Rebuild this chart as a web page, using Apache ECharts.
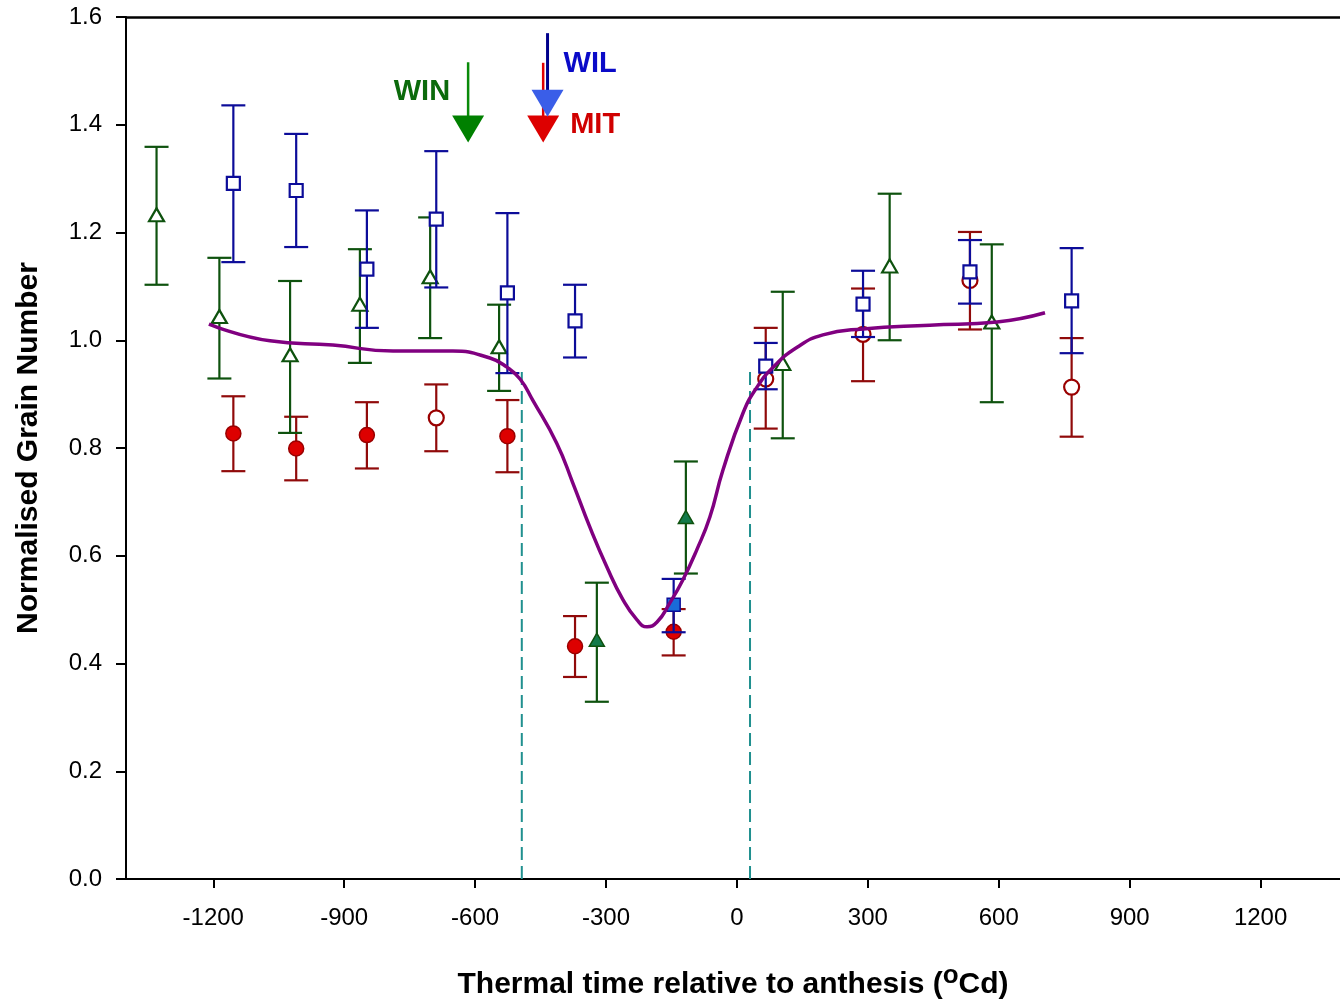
<!DOCTYPE html>
<html><head><meta charset="utf-8">
<script src="https://cdn.jsdelivr.net/npm/echarts@6/dist/echarts.min.js"></script>
<style>html,body{margin:0;padding:0;background:#fff}#c{width:1340px;height:1004px}</style>
</head><body><div id="c"></div>
<script>
// ---- axis ticks ----
const xTicks = [-1200, -900, -600, -300, 0, 300, 600, 900, 1200];
const yTicks = [0, 0.2, 0.4, 0.6, 0.8, 1.0, 1.2, 1.4, 1.6];

// ---- WIL (blue squares) ----
const wilX      = [-1154, -1010, -848, -689, -526, -371, -145, 66, 289, 534, 767];
const wilY      = [1.291, 1.278, 1.132, 1.225, 1.088, 1.036, 0.509, 0.952, 1.067, 1.127, 1.073];
const wilHi     = [1.436, 1.383, 1.241, 1.351, 1.236, 1.103, 0.557, 0.995, 1.129, 1.186, 1.171];
const wilLo     = [1.145, 1.173, 1.023, 1.098, 0.939, 0.968, 0.458, 0.909, 1.006, 1.068, 0.976];
const wilFilled = [0, 0, 0, 0, 0, 0, 1, 0, 0, 0, 0];

// ---- MIT (red circles) ----
const mitX      = [-1154, -1010, -848, -689, -526, -371, -145, 66, 289, 534, 767];
const mitY      = [0.827, 0.799, 0.824, 0.856, 0.822, 0.432, 0.459, 0.928, 1.011, 1.111, 0.913];
const mitHi     = [0.896, 0.858, 0.885, 0.918, 0.889, 0.488, 0.501, 1.023, 1.096, 1.201, 1.004];
const mitLo     = [0.757, 0.740, 0.762, 0.794, 0.755, 0.375, 0.415, 0.836, 0.924, 1.020, 0.821];
const mitFilled = [1, 1, 1, 0, 1, 1, 1, 0, 0, 0, 0];

// ---- WIN (green triangles) ----
const winX      = [-1330, -1186, -1024, -864, -703, -545, -321, -117, 105, 350, 584];
const winY      = [1.233, 1.044, 0.973, 1.067, 1.118, 0.988, 0.444, 0.672, 0.957, 1.138, 1.034];
const winHi     = [1.359, 1.153, 1.110, 1.169, 1.228, 1.066, 0.550, 0.775, 1.090, 1.272, 1.178];
const winLo     = [1.103, 0.929, 0.828, 0.958, 1.004, 0.906, 0.329, 0.567, 0.818, 1.000, 0.885];
const winFilled = [0, 0, 0, 0, 0, 0, 1, 1, 0, 0, 0];

// ---- fitted curve ----
const curveX = [-1210, -1070, -926, -788, -651, -566, -527, -497, -468, -413, -376, -337, -298, -261, -229, -206, -183, -154, -124, -92, -62, -32, 14, 46, 83, 138, 197, 289, 442, 596, 706];
const curveY = [1.030, 0.999, 0.991, 0.980, 0.980, 0.967, 0.950, 0.928, 0.889, 0.809, 0.735, 0.653, 0.579, 0.518, 0.481, 0.468, 0.477, 0.512, 0.555, 0.611, 0.672, 0.759, 0.865, 0.913, 0.950, 0.987, 1.010, 1.021, 1.028, 1.034, 1.051];

// ---- dashed vertical markers ----
const dashX = [-493, 30];
const dashTop = 0.948;

// ---- arrows ----
const arrowNames = ['WIN', 'MIT', 'WIL'];
const arrowX     = [-616, -444, -434];
const arrowTop   = [1.516, 1.515, 1.570];
const arrowTip   = [1.367, 1.367, 1.415];

const arrowStyle = {
  WIN: {shaft: '#0a8a0a', head: '#008000', text: '#0b6a0b', align: 'right', dx: -18, ref: 'top', dy: 30, shaftW: 2.5},
  MIT: {shaft: '#e00000', head: '#dd0000', text: '#d00000', align: 'left', dx: 27, ref: 'tip', dy: -18, shaftW: 2.5},
  WIL: {shaft: '#00008b', head: '#3a5ee8', text: '#0a0ac8', align: 'left', dx: 16, ref: 'top', dy: 31, shaftW: 3}
};

const C_WIL = '#0c0c99', C_WIL_FILL = '#1a6bd8';
const C_MIT = '#900a0a', C_MIT_FILL = '#dd0000', C_MIT_EDGE = '#9a0000';
const C_WIN = '#0e520e', C_WIN_FILL = '#137a4a';

function zip(xs, ys) { return xs.map((x, i) => [x, ys[i]]); }
function errData(xs, lo, hi) { return xs.map((x, i) => [x, lo[i], hi[i]]); }

function errRender(color) {
  return function (params, api) {
    const x = api.value(0), lo = api.value(1), hi = api.value(2);
    const a = api.coord([x, lo]), b = api.coord([x, hi]);
    const w = 12;
    const st = {stroke: color, lineWidth: 2.2};
    return {type: 'group', children: [
      {type: 'line', shape: {x1: a[0], y1: a[1], x2: b[0], y2: b[1]}, style: st},
      {type: 'line', shape: {x1: a[0] - w, y1: a[1], x2: a[0] + w, y2: a[1]}, style: st},
      {type: 'line', shape: {x1: b[0] - w, y1: b[1], x2: b[0] + w, y2: b[1]}, style: st}
    ]};
  };
}

function markerData(xs, ys, filled, fillColor, edgeColor) {
  return xs.map((x, i) => ({
    value: [x, ys[i]],
    itemStyle: {color: filled[i] ? fillColor : '#ffffff', borderColor: edgeColor, borderWidth: filled[i] ? 1.5 : 2.2, opacity: 1}
  }));
}

const arrowData = arrowNames.map((n, i) => ({name: n, value: [arrowX[i], arrowTop[i], arrowTip[i]]}));

function arrowRender(params, api) {
  const name = arrowNames[params.dataIndex];
  const s = arrowStyle[name];
  const x = api.value(0);
  const top = api.coord([x, api.value(1)]);
  const tip = api.coord([x, api.value(2)]);
  const hh = 27, hw = 16;
  const headTop = tip[1] - hh;
  const ty = (s.ref === 'top' ? top[1] : tip[1]) + s.dy;
  return {type: 'group', children: [
    {type: 'line', shape: {x1: top[0], y1: top[1], x2: top[0], y2: headTop + 2}, style: {stroke: s.shaft, lineWidth: s.shaftW}},
    {type: 'polygon', shape: {points: [[tip[0] - hw, headTop], [tip[0] + hw, headTop], [tip[0], tip[1]]]}, style: {fill: s.head}},
    {type: 'text', x: top[0] + s.dx, y: ty, style: {text: name, fill: s.text, font: 'bold 29px "Liberation Sans", Arial, sans-serif', align: s.align, verticalAlign: 'middle'}}
  ]};
}

const chart = echarts.init(document.getElementById('c'), null, {renderer: 'canvas'});
const FONT = '"Liberation Sans", Arial, sans-serif';
const XMAX = 1382;

chart.setOption({
  animation: false,
  backgroundColor: '#ffffff',
  grid: {left: 126, right: 0, top: 17, bottom: 125, containLabel: false, outerBoundsMode: 'none'},
  xAxis: [{
    type: 'value', min: -1400, max: XMAX, position: 'bottom',
    axisLine: {show: true, onZero: false, lineStyle: {color: '#000', width: 2}},
    axisTick: {show: true, customValues: xTicks, length: 9, lineStyle: {color: '#000', width: 2}},
    axisLabel: {customValues: xTicks, margin: 27, fontSize: 24, color: '#000', fontFamily: FONT, formatter: v => String(v)},
    splitLine: {show: false},
    name: '{n|Thermal time relative to anthesis (}{s|o}{n|Cd)}',
    nameLocation: 'middle', nameGap: 84,
    nameTextStyle: {rich: {
      n: {fontSize: 30, fontWeight: 'bold', color: '#000', fontFamily: FONT},
      s: {fontSize: 26, fontWeight: 'bold', color: '#000', fontFamily: FONT, padding: [0, 0, 18, 0]}
    }}
  }, {
    type: 'value', min: -1400, max: XMAX, position: 'top',
    axisLine: {show: true, onZero: false, lineStyle: {color: '#000', width: 2.5}},
    axisTick: {show: false}, axisLabel: {show: false}, splitLine: {show: false}
  }],
  yAxis: {
    type: 'value', min: 0, max: 1.6, interval: 0.2,
    axisLine: {show: true, onZero: false, lineStyle: {color: '#000', width: 2}},
    axisTick: {show: true, length: 10, lineStyle: {color: '#000', width: 2}},
    axisLabel: {margin: 24, fontSize: 24, color: '#000', fontFamily: FONT, formatter: v => v.toFixed(1)},
    splitLine: {show: false},
    name: 'Normalised Grain Number', nameLocation: 'middle', nameGap: 82,
    nameTextStyle: {fontSize: 30, fontWeight: 'bold', color: '#000', fontFamily: FONT}
  },
  series: [
    {type: 'line', data: [[dashX[0], 0], [dashX[0], dashTop]], symbol: 'none', lineStyle: {color: '#20908f', width: 2, type: [13, 6]}, z: 1},
    {type: 'line', data: [[dashX[1], 0], [dashX[1], dashTop]], symbol: 'none', lineStyle: {color: '#20908f', width: 2, type: [13, 6]}, z: 1},
    {type: 'custom', renderItem: errRender(C_MIT), data: errData(mitX, mitLo, mitHi), z: 2},
    {type: 'scatter', data: markerData(mitX, mitY, mitFilled, C_MIT_FILL, C_MIT_EDGE), symbol: 'circle', symbolSize: 15, z: 3},
    {type: 'custom', renderItem: errRender(C_WIN), data: errData(winX, winLo, winHi), z: 4},
    {type: 'scatter', data: markerData(winX, winY, winFilled, C_WIN_FILL, C_WIN), symbol: 'triangle', symbolSize: [15, 13], z: 5},
    {type: 'custom', renderItem: errRender(C_WIL), data: errData(wilX, wilLo, wilHi), z: 6},
    {type: 'scatter', data: markerData(wilX, wilY, wilFilled, C_WIL_FILL, C_WIL), symbol: 'rect', symbolSize: 13, z: 7},
    {type: 'line', data: zip(curveX, curveY), symbol: 'none', smooth: 0.5, lineStyle: {color: '#800080', width: 3.5}, z: 8},
    {type: 'custom', renderItem: arrowRender, data: arrowData, z: 9, clip: false}
  ]
});
</script>
</body></html>
